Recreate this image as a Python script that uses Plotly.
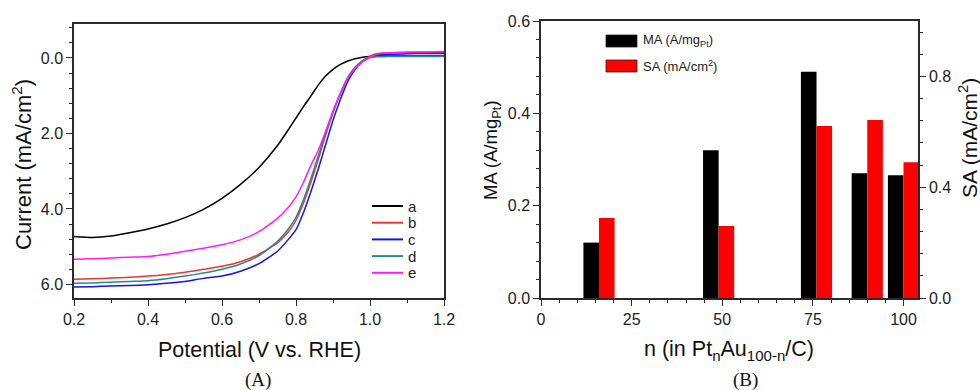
import plotly.graph_objects as go

# ---------------- data ----------------
potential = [0.2, 0.25, 0.3, 0.35, 0.4, 0.45, 0.5, 0.55, 0.6, 0.65, 0.7, 0.75, 0.78, 0.8,
             0.82, 0.84, 0.86, 0.88, 0.9, 0.92, 0.94, 0.96, 0.98, 1.0, 1.02, 1.05, 1.1, 1.15, 1.2]
curve_a = [4.73, 4.76, 4.72, 4.63, 4.53, 4.40, 4.23, 4.01, 3.72, 3.35, 2.90, 2.32, 1.89, 1.59,
           1.29, 1.01, 0.72, 0.48, 0.30, 0.17, 0.08, 0.02, -0.02, -0.04, -0.05, -0.05, -0.05, -0.05, -0.05]
curve_b = [5.86, 5.85, 5.83, 5.81, 5.78, 5.74, 5.68, 5.60, 5.52, 5.40, 5.20, 4.90, 4.60, 4.30,
           3.85, 3.30, 2.70, 2.05, 1.45, 0.95, 0.52, 0.24, 0.07, -0.05, -0.12, -0.14, -0.15, -0.15, -0.15]
curve_c = [6.07, 6.06, 6.04, 6.03, 6.01, 5.97, 5.92, 5.84, 5.78, 5.65, 5.45, 5.12, 4.80, 4.55,
           4.10, 3.55, 2.95, 2.30, 1.65, 1.10, 0.62, 0.30, 0.10, -0.02, -0.08, -0.10, -0.11, -0.12, -0.12]
curve_d = [5.97, 5.96, 5.94, 5.92, 5.90, 5.85, 5.78, 5.70, 5.60, 5.46, 5.24, 4.86, 4.52, 4.22,
           3.76, 3.20, 2.60, 2.00, 1.43, 0.93, 0.52, 0.25, 0.08, -0.01, -0.03, -0.04, -0.04, -0.04, -0.04]
curve_e = [5.33, 5.32, 5.30, 5.28, 5.26, 5.20, 5.12, 5.04, 4.95, 4.82, 4.60, 4.25, 3.95, 3.68,
           3.30, 2.85, 2.45, 1.95, 1.40, 0.95, 0.55, 0.27, 0.10, -0.02, -0.10, -0.13, -0.15, -0.16, -0.17]
curve_names = ["a", "b", "c", "d", "e"]
curve_colors = ["#000000", "#e8353a", "#1515e6", "#2a8c80", "#ff1aff"]

n_values = [16, 49, 76, 90, 100]
ma_values = [0.12, 0.32, 0.49, 0.27, 0.266]
sa_values = [0.289, 0.26, 0.621, 0.643, 0.49]
bar_width = 4.3

W, H = 980, 390
FONT = "Liberation Sans, Arial, sans-serif"
SERIF = "Liberation Serif, Times New Roman, serif"
AX = "#2b2b2b"

def px(x):
    return x / W

def py(y):
    return 1 - y / H

fig = go.Figure()

for name, col, ys in zip(curve_names, curve_colors, [curve_a, curve_b, curve_c, curve_d, curve_e]):
    fig.add_trace(go.Scatter(x=potential, y=ys, mode="lines", name=name,
                             line=dict(color=col, width=1.5, shape="spline", smoothing=0.5),
                             xaxis="x", yaxis="y", showlegend=False))

fig.add_trace(go.Bar(x=n_values, y=ma_values, width=bar_width, offset=-bar_width,
                     marker=dict(color="#000000", line=dict(width=0)), name="MA",
                     xaxis="x2", yaxis="y3", showlegend=False))
fig.add_trace(go.Bar(x=n_values, y=sa_values, width=bar_width, offset=0,
                     marker=dict(color="#ff0000", line=dict(width=0)), name="SA",
                     xaxis="x2", yaxis="y4", showlegend=False))

tickfont = dict(family=FONT, size=16, color="#222")
common = dict(showgrid=False, zeroline=False, showline=True, linecolor=AX, linewidth=1.5,
              ticks="outside", ticklen=6, tickwidth=1.2, tickcolor=AX, tickfont=tickfont,
              automargin=False)
minor = lambda d: dict(ticks="outside", ticklen=3, tickwidth=1, tickcolor=AX, dtick=d, showgrid=False)

fig.update_layout(
    width=W, height=H, margin=dict(l=0, r=0, t=0, b=0, pad=0),
    paper_bgcolor="white", plot_bgcolor="white", barmode="overlay", showlegend=False,
    xaxis=dict(domain=[px(74), px(444)], range=[0.2, 1.2], dtick=0.2, tick0=0.2,
               tickformat=".1f", mirror=True, anchor="y", minor=minor(0.1), **common),
    yaxis=dict(domain=[py(298), py(24)], range=[6.36, -0.9], dtick=2, tick0=0,
               tickformat=".1f", mirror=True, anchor="x", minor=minor(0.4), **common),
    xaxis2=dict(domain=[px(541), px(918)], range=[0, 104], dtick=25, tick0=0,
                mirror=True, anchor="y3", minor=minor(5), **common),
    yaxis3=dict(domain=[py(298), py(21)], range=[0, 0.6], dtick=0.2, tick0=0,
                tickformat=".1f", anchor="x2", minor=minor(0.04), **common),
    yaxis4=dict(range=[0, 1.0], dtick=0.4, tick0=0, tickformat=".1f", overlaying="y3",
                side="right", anchor="x2", minor=minor(0.08), **common),
)

# line legend (left panel)
for i, (name, col) in enumerate(zip(curve_names, curve_colors)):
    yy = 206 + i * 16.7
    fig.add_shape(type="line", xref="paper", yref="paper", x0=px(372), x1=px(403),
                  y0=py(yy), y1=py(yy), line=dict(color=col, width=2))
    fig.add_annotation(xref="paper", yref="paper", x=px(406), y=py(yy), text=name,
                       showarrow=False, xanchor="left", yanchor="middle",
                       font=dict(family=FONT, size=15, color="#222"))

# bar legend (swatches + labels)
for (y0, col, label) in [(35, "#000000", "MA (A/mg<sub>Pt</sub>)"), (60, "#ff0000", "SA (mA/cm<sup>2</sup>)")]:
    fig.add_shape(type="rect", xref="paper", yref="paper", x0=px(606), x1=px(637),
                  y0=py(y0 + 12), y1=py(y0), fillcolor=col, line=dict(color="#222", width=0.8))
    fig.add_annotation(xref="paper", yref="paper", x=px(641), y=py(y0 + 6), text=label,
                       showarrow=False, xanchor="left", yanchor="middle",
                       font=dict(family=FONT, size=13, color="#222"))

titles = [
    (px(259), py(350), "Potential (V vs. RHE)", 0, FONT, 21.5),
    (px(22), py(165), "Current (mA/cm<sup>2</sup>)", -90, FONT, 22),
    (px(729), py(350), "n (in Pt<sub>n</sub>Au<sub>100-n</sub>/C)", 0, FONT, 21.5),
    (px(492), py(150), "MA (A/mg<sub>Pt</sub>)", -90, FONT, 18.5),
    (px(968), py(138), "SA (mA/cm<sup>2</sup>)", -90, FONT, 21),
    (px(258), py(380), "(A)", 0, SERIF, 19),
    (px(745), py(380), "(B)", 0, SERIF, 19),
]
for x, y, t, ang, fam, sz in titles:
    fig.add_annotation(xref="paper", yref="paper", x=x, y=y, text=t, textangle=ang,
                       showarrow=False, xanchor="center", yanchor="middle",
                       font=dict(family=fam, size=sz, color="#111"))

fig.write_html("out.html", config={"displayModeBar": False},
               post_script="document.body.style.margin='0';document.body.style.overflow='hidden';")
